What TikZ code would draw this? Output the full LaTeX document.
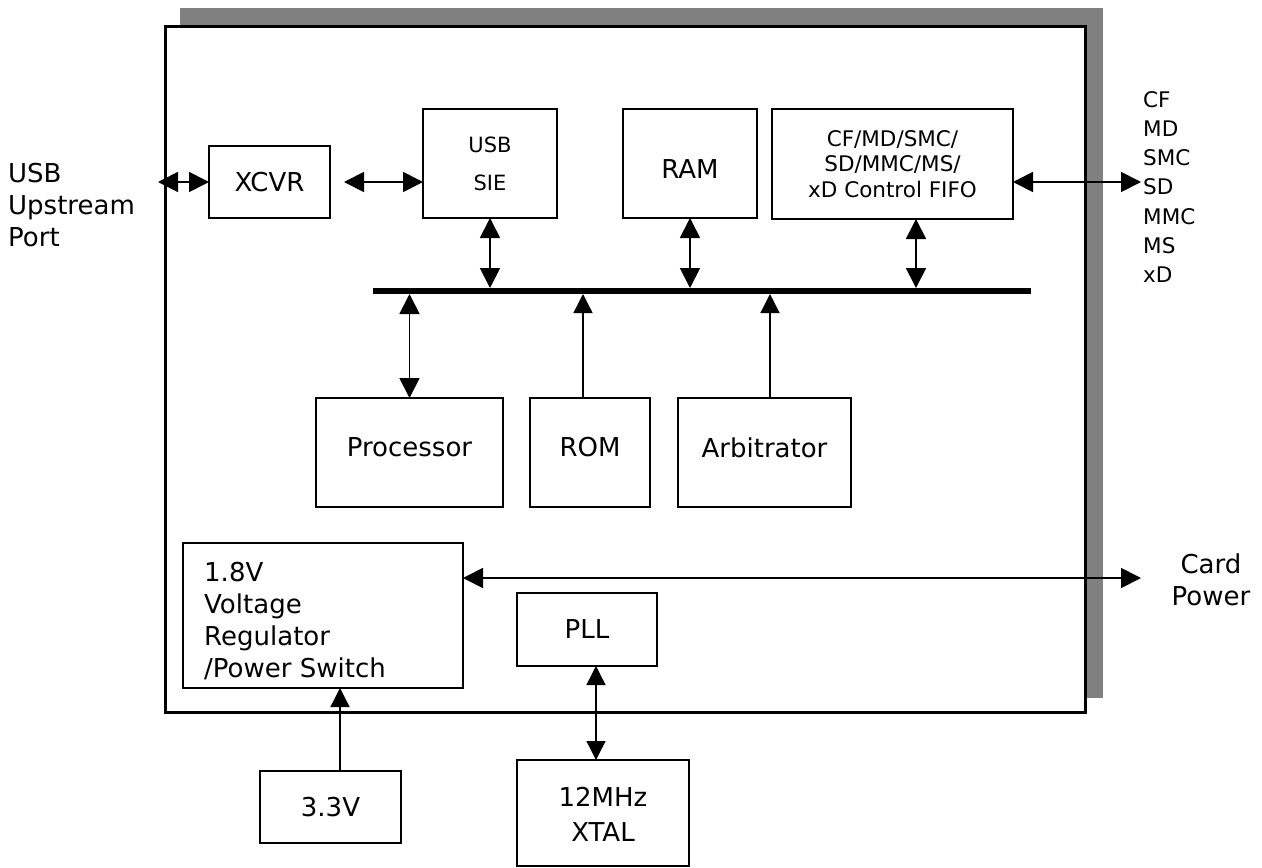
\documentclass[tikz,border=0pt]{standalone}
\usepackage{fontspec}
\setmainfont{DejaVu Sans}
\usetikzlibrary{arrows.meta}
\definecolor{shadowgray}{HTML}{808080}
\tikzset{
  blk/.style={draw, line width=1.8pt, fill=white, inner sep=0pt, outer sep=0pt, align=center,
    font=\fontsize{26}{32}\selectfont},
  tip/.tip={Triangle[length=20pt,width=20pt]},
  conn/.style={line width=1.8pt, -tip},
  bconn/.style={line width=1.8pt, tip-tip},
  thinconn/.style={line width=1.4pt, {Triangle[length=19pt,width=19pt]}-{Triangle[length=19pt,width=19pt]}},
  thinone/.style={line width=1.4pt, -{Triangle[length=19pt,width=19pt]}},
  lbl/.style={inner sep=0pt, align=left, font=\fontsize{26}{32}\selectfont},
}
\begin{document}
\begin{tikzpicture}[x=1pt,y=-1pt]
\useasboundingbox (0,0) rectangle (1262,868);
% shadow and chip
\fill[shadowgray] (180,8) rectangle (1103,698);
\node[draw, line width=3pt, fill=white, minimum width=920pt, minimum height=686pt, inner sep=0pt] (chip) at (625,369) {};

% blocks
\node[blk, minimum width=121pt, minimum height=72pt] (xcvr) at (269.5,182) {XCVR};
\node[blk, minimum width=134pt, minimum height=109pt, font=\fontsize{21}{38}\selectfont] (sie) at (490,163.5) {USB\\SIE};
\node[blk, minimum width=134pt, minimum height=109pt] (ram) at (690,163.5) {\raisebox{-6pt}[\height][\depth]{RAM}};
\node[blk, minimum width=241pt, minimum height=110pt, font=\fontsize{21.5}{25.5}\selectfont] (fifo) at (892.5,164) {CF/MD/SMC/\\SD/MMC/MS/\\xD Control FIFO};
\node[blk, minimum width=187pt, minimum height=109pt] (proc) at (409.5,452.5) {\raisebox{5pt}[\height][\depth]{Processor}};
\node[blk, minimum width=120pt, minimum height=109pt] (rom) at (590,452.5) {\raisebox{5pt}[\height][\depth]{ROM}};
\node[blk, minimum width=173pt, minimum height=109pt] (arb) at (764.5,452.5) {\raisebox{5pt}[\height][\depth]{Arbitrator}};
\node[blk, minimum width=280pt, minimum height=145pt] (reg) at (323,615.5) {};
\node[lbl, anchor=north west] (regtxt) at (204,562) {1.8V\\Voltage\\Regulator\\/Power Switch};
\node[blk, minimum width=140pt, minimum height=73pt] (pll) at (587,629.5) {PLL};
\node[blk, minimum width=172pt, minimum height=106pt, font=\fontsize{26}{37}\selectfont] (xtal) at (603,813) {\raisebox{-2pt}[\height][\depth]{12MHz}\\XTAL};
\node[blk, minimum width=141pt, minimum height=72pt] (v33) at (330.5,807) {3.3V};

% bus
\node[fill=black, minimum width=658pt, minimum height=6pt, inner sep=0pt, outer sep=0pt] (bus) at (702,291) {};

% external labels
\node[lbl, anchor=west] (usbport) at (8,205) {USB\\Upstream\\Port};
\node[lbl, anchor=west, font=\fontsize{21.5}{29.3}\selectfont] (cards) at (1143,187) {CF\\MD\\SMC\\SD\\MMC\\MS\\xD};
\node[lbl, align=center] (cardpwr) at (1211,580) {Card\\Power};

% named free ends
\coordinate (portL) at (158,182);
\coordinate (fifoR) at (1141,182);
\coordinate (cardP) at (1141,578);

% connectors
\draw[bconn] (portL) -- (xcvr.west);
\draw[bconn] ([xshift=14pt]xcvr.east) -- (sie.west |- xcvr.east);
\draw[bconn] (fifoR -| fifo.east) -- (fifoR);
\draw[bconn] (sie.south) -- (sie.south |- bus.north);
\draw[bconn] (ram.south) -- (ram.south |- bus.north);
\draw[bconn] ([xshift=23.5pt]fifo.south) -- ([xshift=23.5pt]fifo.south |- bus.north);
\draw[bconn] (proc.north) -- (proc.north |- bus.south);
\draw[thinone] ([xshift=-7pt]rom.north) -- ([xshift=-7pt]rom.north |- bus.south);
\draw[thinone] ([xshift=5.5pt]arb.north) -- ([xshift=5.5pt]arb.north |- bus.south);
\draw[bconn] (cardP -| reg.east) -- (cardP);
\draw[thinone] ([xshift=9.5pt]v33.north) -- ([xshift=9.5pt]v33.north |- reg.south);
\draw[thinconn] ([xshift=9pt]pll.south) -- ([xshift=9pt]pll.south |- xtal.north);
\end{tikzpicture}
\end{document}
